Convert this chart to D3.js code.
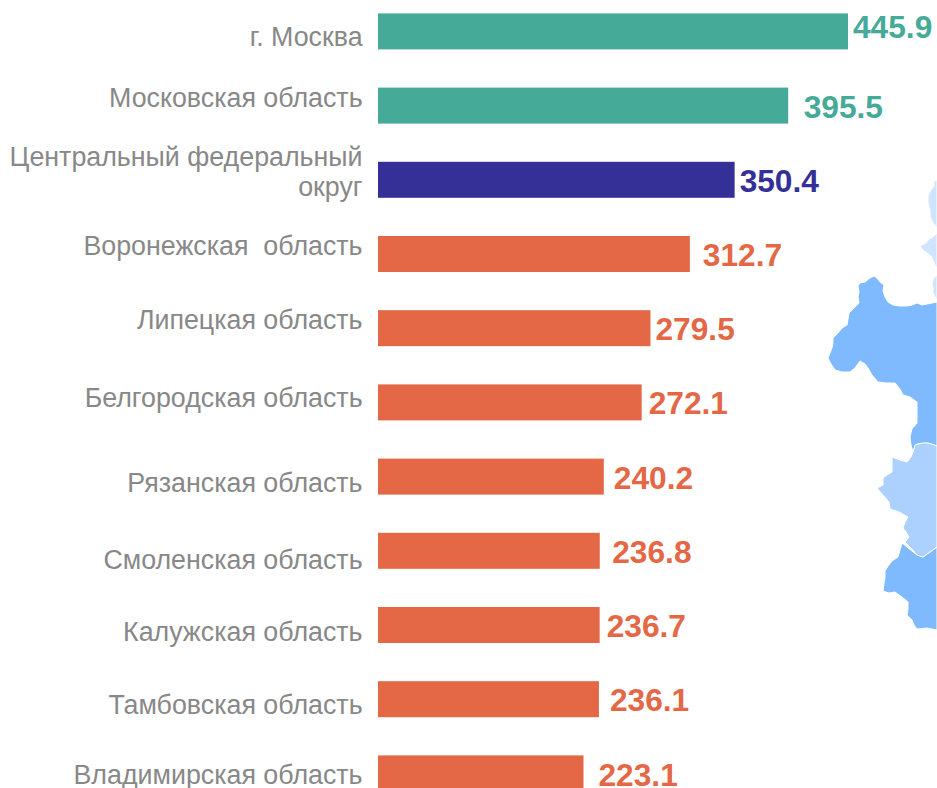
<!DOCTYPE html>
<html><head><meta charset="utf-8">
<script src="https://cdn.jsdelivr.net/npm/d3@7/dist/d3.min.js"></script>
<style>html,body{margin:0;padding:0;background:#fff;overflow:hidden}svg{display:block}text{font-family:"Liberation Sans",Arial,sans-serif}</style>
</head><body><svg id="c" width="937" height="788"></svg>
<script>
const categories=["г. Москва","Московская область","Центральный федеральный|округ","Воронежская  область","Липецкая область","Белгородская область","Рязанская область","Смоленская область","Калужская область","Тамбовская область","Владимирская область"];
const values=[445.9,395.5,350.4,312.7,279.5,272.1,240.2,236.8,236.7,236.1,223.1];
const kinds=["top","top","district","rest","rest","rest","rest","rest","rest","rest","rest"];
// hand-placed label offsets of the original slide
const valueDx=[5,15.5,5,13,5,7,10,12.5,7,11,15];
const valueDy=[-4,1,1,1,1,1,1,1,1,1,2];
const labelDy=[6,-8,-23,-8,-8,-4,6,9,7,6,2];
const kindColor={top:"#45AA97",district:"#353097",rest:"#E46846"};
// decorative background map fragments
const mapShapes=[
 {fill:"#CFE5FF",pts:[[937,180],[934,181],[934,186],[931,190],[928,196],[928,203],[930,210],[930,217],[934,224],[937,228]]},
 {fill:"#CFE5FF",pts:[[937,233],[933,237],[929,239],[926,243],[920,246],[924,251],[927,253],[931,256],[933,260],[935,265],[937,268]]},
 {fill:"#CFE5FF",pts:[[937,275],[934,278],[932,283],[933,288],[933,293],[935,297],[937,300]]},
 {fill:"#7FB9FF",pts:[[937,302],[932,303],[927,304],[922,305],[917,303],[912,305],[907,306],[900,306],[893,305],[888,302],[885,297],[883,291],[884,285],[880,282],[877,278],[874,276],[870,278],[865,282],[860,283],[858,286],[859,292],[858,297],[859,303],[855,307],[849,313],[848,319],[847,325],[842,328],[838,333],[833,338],[833,343],[832,348],[830,353],[828,358],[831,364],[835,370],[842,372],[850,372],[855,368],[860,361],[865,364],[868,368],[872,375],[878,382],[886,383],[895,383],[900,389],[903,395],[910,397],[917,402],[917,412],[917,423],[912,429],[910,437],[911,445],[913,452],[915,446],[917,444],[928,443],[937,446]]},
 {fill:"#7FB9FF",pts:[[902,543],[900,550],[898,557],[892,561],[888,566],[885,571],[885,577],[884,584],[883,591],[889,593],[895,592],[902,597],[908,602],[908,609],[907,615],[912,620],[914,625],[917,629],[927,628],[937,630],[937,547],[923,557],[917,555]]},
 {fill:"#ADD1FF",pts:[[937,446],[928,443],[922,443],[915,445],[914,449],[913,452],[911,457],[907,462],[900,460],[892,457],[892,465],[892,472],[887,475],[883,478],[883,485],[877,488],[882,494],[889,502],[890,509],[899,512],[908,517],[905,522],[903,528],[906,532],[909,537],[905,542],[911,548],[917,555],[923,557],[930,552],[937,547]]}
];
const svg=d3.select("#c");
const x=d3.scaleLinear().domain([50,445.9]).range([378,848]);
const y=d3.scaleBand().domain(categories).range([-23.7,828.5]).paddingInner(0.5148).paddingOuter(0.5);
const line=d3.line();
svg.append("g").selectAll("path").data(mapShapes).join("path")
 .attr("d",d=>line(d.pts)+"Z").attr("fill",d=>d.fill).attr("stroke","#fff").attr("stroke-width",1);
svg.append("g").selectAll("rect").data(categories).join("rect")
 .attr("x",x(50)).attr("y",d=>y(d)).attr("height",y.bandwidth())
 .attr("width",(d,i)=>x(values[i])-x(50)).attr("fill",(d,i)=>kindColor[kinds[i]]);
svg.append("g").selectAll("text").data(categories).join("text")
 .attr("x",(d,i)=>x(values[i])+valueDx[i]).attr("y",(d,i)=>y(d)+y.bandwidth()/2+valueDy[i]).attr("dy","0.35em")
 .attr("font-size",31.7).attr("font-weight","bold").attr("fill",(d,i)=>kindColor[kinds[i]])
 .text((d,i)=>values[i].toFixed(1));
const lab=svg.append("g").selectAll("text").data(categories).join("text")
 .attr("text-anchor","end").attr("font-size",26.8).attr("fill","#888888");
lab.each(function(d,i){
 const parts=d.split("|"),cy=y(d)+y.bandwidth()/2+labelDy[i];
 d3.select(this).selectAll("tspan").data(parts).join("tspan")
  .attr("x",362.6).attr("y",(p,j)=>cy+9+j*30).attr("xml:space","preserve").text(p=>p);
});
</script></body></html>
